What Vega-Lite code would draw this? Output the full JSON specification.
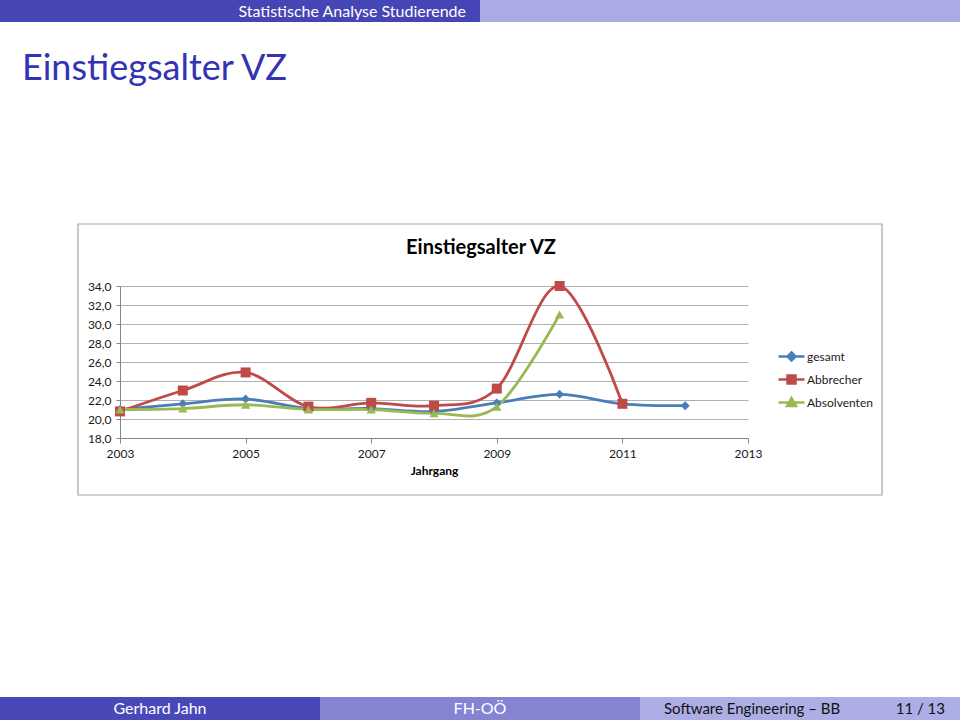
{
  "$schema": "https://vega.github.io/schema/vega-lite/v6.json",
  "width": 628,
  "height": 152,
  "autosize": {"type": "none"},
  "padding": {"left": 120, "top": 286, "right": 212, "bottom": 282},
  "background": "white",
  "config": {
    "font": "Lato",
    "view": {"stroke": null},
    "axis": {"labelFont": "Lato", "titleFont": "Lato"}
  },
  "data": {
    "values": [
      {"Jahrgang": 2003, "Reihe": "gesamt", "Alter": 21.0},
      {"Jahrgang": 2004, "Reihe": "gesamt", "Alter": 21.6},
      {"Jahrgang": 2005, "Reihe": "gesamt", "Alter": 22.1},
      {"Jahrgang": 2006, "Reihe": "gesamt", "Alter": 21.1},
      {"Jahrgang": 2007, "Reihe": "gesamt", "Alter": 21.1},
      {"Jahrgang": 2008, "Reihe": "gesamt", "Alter": 20.8},
      {"Jahrgang": 2009, "Reihe": "gesamt", "Alter": 21.7},
      {"Jahrgang": 2010, "Reihe": "gesamt", "Alter": 22.6},
      {"Jahrgang": 2011, "Reihe": "gesamt", "Alter": 21.6},
      {"Jahrgang": 2012, "Reihe": "gesamt", "Alter": 21.4},
      {"Jahrgang": 2003, "Reihe": "Abbrecher", "Alter": 20.8},
      {"Jahrgang": 2004, "Reihe": "Abbrecher", "Alter": 23.0},
      {"Jahrgang": 2005, "Reihe": "Abbrecher", "Alter": 24.9},
      {"Jahrgang": 2006, "Reihe": "Abbrecher", "Alter": 21.3},
      {"Jahrgang": 2007, "Reihe": "Abbrecher", "Alter": 21.7},
      {"Jahrgang": 2008, "Reihe": "Abbrecher", "Alter": 21.4},
      {"Jahrgang": 2009, "Reihe": "Abbrecher", "Alter": 23.2},
      {"Jahrgang": 2010, "Reihe": "Abbrecher", "Alter": 34.0},
      {"Jahrgang": 2011, "Reihe": "Abbrecher", "Alter": 21.6},
      {"Jahrgang": 2003, "Reihe": "Absolventen", "Alter": 21.0},
      {"Jahrgang": 2004, "Reihe": "Absolventen", "Alter": 21.1},
      {"Jahrgang": 2005, "Reihe": "Absolventen", "Alter": 21.5},
      {"Jahrgang": 2006, "Reihe": "Absolventen", "Alter": 21.0},
      {"Jahrgang": 2007, "Reihe": "Absolventen", "Alter": 21.0},
      {"Jahrgang": 2008, "Reihe": "Absolventen", "Alter": 20.6},
      {"Jahrgang": 2009, "Reihe": "Absolventen", "Alter": 21.3},
      {"Jahrgang": 2010, "Reihe": "Absolventen", "Alter": 31.0}
    ]
  },
  "layer": [
    {
      "data": {"values": [{"teil": "Rahmen"}]},
      "mark": {"type": "rect", "fill": null, "fillOpacity": 0, "stroke": "#a6a6a6", "strokeWidth": 1.2},
      "encoding": {"x": {"value": -42}, "x2": {"value": 762}, "y": {"value": -62}, "y2": {"value": 209}}
    },
    {
      "data": {"values": [{"teil": "Kopf links"}]},
      "mark": {"type": "rect", "fill": "#4545b5"},
      "encoding": {"x": {"value": -120}, "x2": {"value": 360}, "y": {"value": -286}, "y2": {"value": -264}}
    },
    {
      "data": {"values": [{"teil": "Kopf rechts"}]},
      "mark": {"type": "rect", "fill": "#aaaae4"},
      "encoding": {"x": {"value": 360}, "x2": {"value": 840}, "y": {"value": -286}, "y2": {"value": -264}}
    },
    {
      "data": {"values": [{"text": "Statistische Analyse Studierende"}]},
      "mark": {"type": "text", "align": "right", "baseline": "middle", "fontSize": 16, "color": "white", "font": "Lato"},
      "encoding": {"text": {"field": "text"}, "x": {"value": 346}, "y": {"value": -274}}
    },
    {
      "data": {"values": [{"text": "Einstiegsalter VZ"}]},
      "mark": {"type": "text", "align": "left", "baseline": "alphabetic", "fontSize": 36, "color": "#3333b3", "font": "Lato"},
      "encoding": {"text": {"field": "text"}, "x": {"value": -98}, "y": {"value": -206}}
    },
    {
      "data": {"values": [{"teil": "Fuss links"}]},
      "mark": {"type": "rect", "fill": "#4848b8"},
      "encoding": {"x": {"value": -120}, "x2": {"value": 200}, "y": {"value": 411}, "y2": {"value": 434}}
    },
    {
      "data": {"values": [{"teil": "Fuss mitte"}]},
      "mark": {"type": "rect", "fill": "#8484d2"},
      "encoding": {"x": {"value": 200}, "x2": {"value": 520}, "y": {"value": 411}, "y2": {"value": 434}}
    },
    {
      "data": {"values": [{"teil": "Fuss rechts"}]},
      "mark": {"type": "rect", "fill": "#aeaee6"},
      "encoding": {"x": {"value": 520}, "x2": {"value": 840}, "y": {"value": 411}, "y2": {"value": 434}}
    },
    {
      "data": {"values": [{"text": "Gerhard Jahn"}]},
      "mark": {"type": "text", "align": "center", "baseline": "middle", "fontSize": 16, "color": "white", "font": "Lato"},
      "encoding": {"text": {"field": "text"}, "x": {"value": 40}, "y": {"value": 423}}
    },
    {
      "data": {"values": [{"text": "FH-OÖ"}]},
      "mark": {"type": "text", "align": "center", "baseline": "middle", "fontSize": 16, "color": "white", "font": "Lato"},
      "encoding": {"text": {"field": "text"}, "x": {"value": 360}, "y": {"value": 423}}
    },
    {
      "data": {"values": [{"text": "Software Engineering – BB"}]},
      "mark": {"type": "text", "align": "left", "baseline": "middle", "fontSize": 15, "color": "#111111", "font": "Lato"},
      "encoding": {"text": {"field": "text"}, "x": {"value": 544}, "y": {"value": 423}}
    },
    {
      "data": {"values": [{"text": "11 / 13"}]},
      "mark": {"type": "text", "align": "right", "baseline": "middle", "fontSize": 15, "color": "#111111", "font": "Lato"},
      "encoding": {"text": {"field": "text"}, "x": {"value": 825}, "y": {"value": 423}}
    },
    {
      "data": {"values": [{"text": "Einstiegsalter VZ"}]},
      "mark": {"type": "text", "align": "center", "baseline": "alphabetic", "fontSize": 20, "fontWeight": "bold", "color": "#000000", "font": "Lato"},
      "encoding": {"text": {"field": "text"}, "x": {"value": 361}, "y": {"value": -32}}
    },
    {
      "mark": {"type": "line", "interpolate": "cardinal", "strokeWidth": 2.8},
      "encoding": {
        "x": {
          "field": "Jahrgang", "type": "quantitative",
          "scale": {"domain": [2003, 2013], "nice": false, "zero": false},
          "axis": {
            "values": [2003, 2005, 2007, 2009, 2011, 2013], "tickCount": 20, "format": "d", "grid": false,
            "labelFlush": false, "labelOverlap": false,
            "title": "Jahrgang", "titleFontWeight": "bold", "titleFontSize": 12, "titleColor": "#000000", "titlePadding": 6,
            "labelFontSize": 12, "labelColor": "#1a1a1a", "labelPadding": 5,
            "domainColor": "#868686", "tickColor": "#868686", "tickSize": 5
          }
        },
        "y": {
          "field": "Alter", "type": "quantitative",
          "scale": {"domain": [18, 34], "nice": false, "zero": false},
          "axis": {
            "values": [18, 20, 22, 24, 26, 28, 30, 32, 34], "tickCount": 20, "title": null,
            "labelExpr": "replace(format(datum.value, '.1f'), '.', ',')",
            "labelOverlap": false, "labelFlush": false,
            "grid": true, "gridColor": "#b0b0b0", "gridWidth": 1,
            "labelFontSize": 12, "labelColor": "#1a1a1a", "labelPadding": 5,
            "domainColor": "#868686", "tickColor": "#868686", "tickSize": 4
          }
        },
        "color": {
          "field": "Reihe", "type": "nominal",
          "scale": {"domain": ["gesamt", "Abbrecher", "Absolventen"], "range": ["#4a7ebb", "#be4b48", "#98b954"]},
          "legend": {
            "title": null, "orient": "none", "legendX": 665, "legendY": 64, "padding": 0,
            "symbolSize": 100, "rowPadding": 4, "labelOffset": 9, "labelFontSize": 12, "labelColor": "#1a1a1a",
            "symbolStrokeWidth": 2.5,
            "encode": {
              "symbols": {
                "update": {
                  "shape": {"signal": "datum.value === 'gesamt' ? 'M-2.6,0H2.6M0,-0.8L0.8,0L0,0.8L-0.8,0Z' : (datum.value === 'Abbrecher' ? 'M-2.6,0H2.6M-0.8,-0.8H0.8V0.8H-0.8Z' : 'M-2.6,0H2.6M0,-0.9L0.9,0.7H-0.9Z')"},
                  "fill": {"scale": "color", "field": "value"},
                  "stroke": {"scale": "color", "field": "value"},
                  "strokeWidth": {"value": 2.5},
                  "opacity": {"value": 1}
                }
              }
            }
          }
        },
        "order": {"field": "Jahrgang", "type": "quantitative"}
      }
    },
    {
      "transform": [{"filter": "datum.Reihe === 'gesamt'"}],
      "mark": {"type": "point", "filled": true, "size": 80, "opacity": 1, "shape": "diamond"},
      "encoding": {
        "x": {"field": "Jahrgang", "type": "quantitative"},
        "y": {"field": "Alter", "type": "quantitative"},
        "color": {"field": "Reihe", "type": "nominal"}
      }
    },
    {
      "transform": [{"filter": "datum.Reihe === 'Abbrecher'"}],
      "mark": {"type": "point", "filled": true, "size": 100, "opacity": 1, "shape": "square"},
      "encoding": {
        "x": {"field": "Jahrgang", "type": "quantitative"},
        "y": {"field": "Alter", "type": "quantitative"},
        "color": {"field": "Reihe", "type": "nominal"}
      }
    },
    {
      "transform": [{"filter": "datum.Reihe === 'Absolventen'"}],
      "mark": {"type": "point", "filled": true, "size": 85, "opacity": 1, "shape": "triangle-up"},
      "encoding": {
        "x": {"field": "Jahrgang", "type": "quantitative"},
        "y": {"field": "Alter", "type": "quantitative"},
        "color": {"field": "Reihe", "type": "nominal"}
      }
    }
  ]
}
